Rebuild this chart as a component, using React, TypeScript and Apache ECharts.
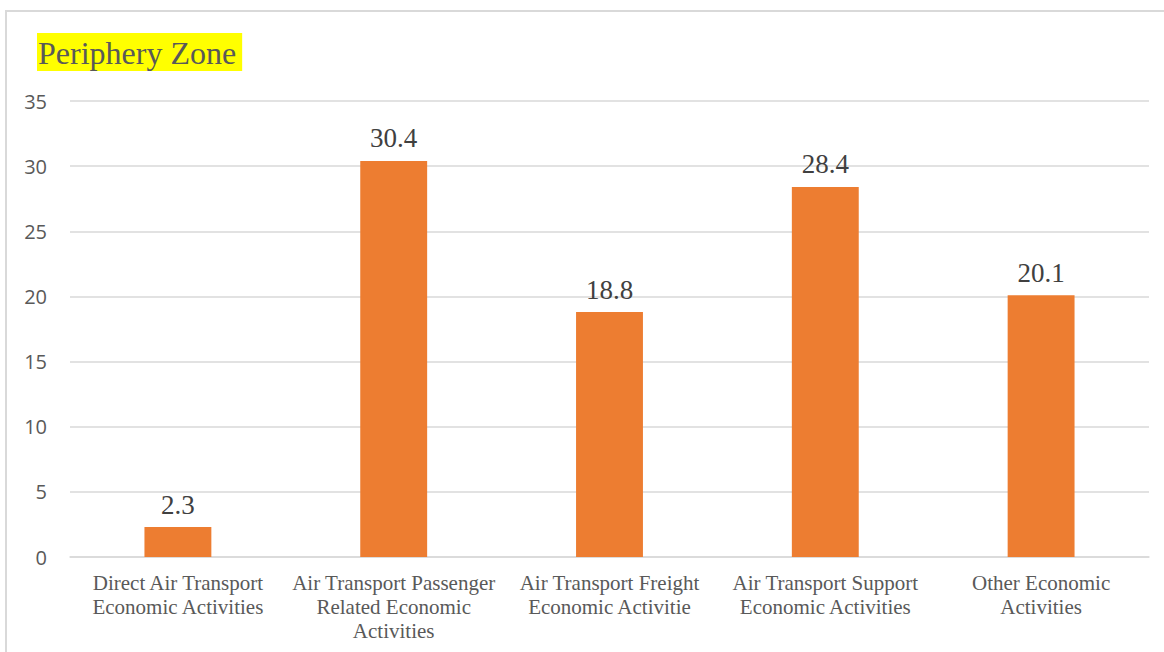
import React, { useEffect, useRef } from "react";
import * as echarts from "echarts";

const categories = [
  "Direct Air Transport\nEconomic Activities",
  "Air Transport Passenger\nRelated Economic\nActivities",
  "Air Transport Freight\nEconomic Activitie",
  "Air Transport Support\nEconomic Activities",
  "Other Economic\nActivities",
];
const values = [2.3, 30.4, 18.8, 28.4, 20.1];
const titleText = "Periphery Zone";

const SERIF = "Liberation Serif, Times New Roman, serif";
const SANS = "Open Sans, Liberation Sans, sans-serif";

export default function App() {
  const ref = useRef<HTMLDivElement>(null);

  useEffect(() => {
    if (!ref.current) return;
    const chart = echarts.init(ref.current, null, { renderer: "svg" });
    chart.setOption({
      animation: false,
      backgroundColor: "#ffffff",
      title: {
        text: titleText,
        left: 37,
        top: 33,
        padding: [3, 6, 2, 1],
        backgroundColor: "#ffff00",
        textStyle: {
          fontFamily: SERIF,
          fontSize: 32,
          fontWeight: "normal",
          color: "#595959",
          lineHeight: 33,
        },
      },
      graphic: [
        {
          type: "rect",
          shape: { x: 6, y: 11, width: 1180, height: 700 },
          style: { fill: "none", stroke: "#d9d9d9", lineWidth: 2 },
          silent: true,
        },
      ],
      grid: { left: 70, right: 15, top: 101, bottom: 95 },
      xAxis: {
        type: "category",
        data: categories,
        axisLine: { show: true, lineStyle: { color: "#d9d9d9", width: 1.5 } },
        axisTick: { show: false },
        axisLabel: {
          interval: 0,
          margin: 14,
          fontFamily: SERIF,
          fontSize: 21,
          lineHeight: 24,
          color: "#595959",
        },
      },
      yAxis: {
        type: "value",
        min: 0,
        max: 35,
        interval: 5,
        axisLine: { show: false },
        axisTick: { show: false },
        splitLine: { lineStyle: { color: "#d9d9d9", width: 1.5 } },
        axisLabel: {
          margin: 23,
          fontFamily: SANS,
          fontSize: 20,
          color: "#595959",
        },
      },
      series: [
        {
          type: "bar",
          data: values,
          barWidth: "31%",
          itemStyle: { color: "#ed7d31" },
          label: {
            show: true,
            position: "top",
            distance: 9,
            fontFamily: SERIF,
            fontSize: 27,
            color: "#404040",
          },
        },
      ],
    });
    return () => chart.dispose();
  }, []);

  return (
    <div
      ref={ref}
      style={{ position: "absolute", left: 0, top: 0, width: 1164, height: 652 }}
    />
  );
}
